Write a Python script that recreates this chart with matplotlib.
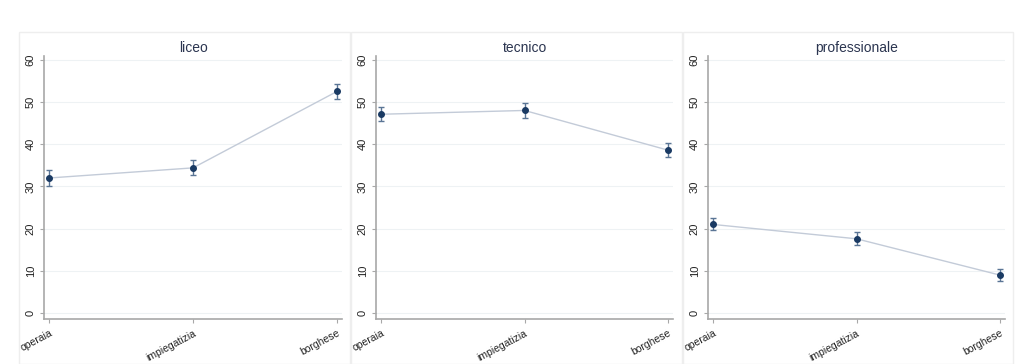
import matplotlib.pyplot as plt
from matplotlib.patches import Rectangle

# --- DATA ---
categories = ['operaia', 'impiegatizia', 'borghese']
panels = ['liceo', 'tecnico', 'professionale']
means = {
    'liceo': [32.0, 34.4, 52.5],
    'tecnico': [47.1, 48.0, 38.6],
    'professionale': [21.0, 17.6, 9.0],
}
lower = {
    'liceo': [30.1, 32.6, 50.7],
    'tecnico': [45.4, 46.3, 37.0],
    'professionale': [19.6, 16.2, 7.6],
}
upper = {
    'liceo': [33.8, 36.2, 54.3],
    'tecnico': [48.8, 49.7, 40.2],
    'professionale': [22.5, 19.1, 10.4],
}
yticks = [0, 10, 20, 30, 40, 50, 60]

# --- STYLE ---
W, H = 1024, 364
NAVY = '#1a3a63'
LINE = '#c3cbd8'
SPINE = '#a8a8a8'
GRID = '#eef2f4'
TEXT = '#222222'

plt.rcParams['font.family'] = ['Liberation Sans', 'DejaVu Sans']

fig = plt.figure(figsize=(W / 100, H / 100), dpi=100)
fig.set_facecolor('white')

# panel frames (pixel positions: left, right)
frames = [(19, 350), (351, 682), (683, 1013)]
# axes positions in pixels: left spine, right end
axpos = [(44, 342), (376, 673), (708, 1005)]
ax_top, ax_bot = 56, 319
frame_top = 32

for (fl, fr) in frames:
    fig.patches.append(Rectangle((fl / W, 0), (fr - fl) / W, (H - frame_top) / H,
                                 transform=fig.transFigure, facecolor='white',
                                 edgecolor='#eeeeee', lw=1.0, zorder=-1))

x = list(range(len(categories)))
for name, (l, r) in zip(panels, axpos):
    ax = fig.add_axes([l / W, (H - ax_bot) / H, (r - l) / W, (ax_bot - ax_top) / H])
    ax.set_zorder(1)
    ax.patch.set_alpha(0)
    m = means[name]
    err = [[mi - lo for mi, lo in zip(m, lower[name])],
           [hi - mi for mi, hi in zip(m, upper[name])]]
    ax.plot(x, m, color=LINE, lw=1.0, zorder=2)
    ax.errorbar(x, m, yerr=err, fmt='none', ecolor='#5a7595', elinewidth=1.0,
                capsize=2.5, capthick=1.0, zorder=3)
    ax.scatter(x, m, s=16, color=NAVY, zorder=4)

    ax.set_ylim(-1.4, 60.9)
    ax.set_xlim(-0.035, 2.035)
    ax.set_yticks(yticks)
    ax.set_yticklabels([str(t) for t in yticks], rotation=90, va='center',
                       fontsize=8, color=TEXT)
    ax.set_xticks(x)
    ax.set_xticklabels(categories, rotation=28, ha='right', fontsize=7.5,
                       color=TEXT, rotation_mode='anchor')
    ax.grid(axis='y', color=GRID, lw=0.8)
    ax.set_axisbelow(True)
    for s in ['top', 'right']:
        ax.spines[s].set_visible(False)
    for s in ['left', 'bottom']:
        ax.spines[s].set_color(SPINE)
        ax.spines[s].set_linewidth(1.2)
    ax.tick_params(axis='both', colors=SPINE, length=3, width=0.8, labelcolor=TEXT)
    ax.tick_params(axis='y', pad=3)
    ax.set_title(name, fontsize=10, color='#2b3550', pad=3)

plt.savefig('out.png', dpi=100, facecolor='white')
